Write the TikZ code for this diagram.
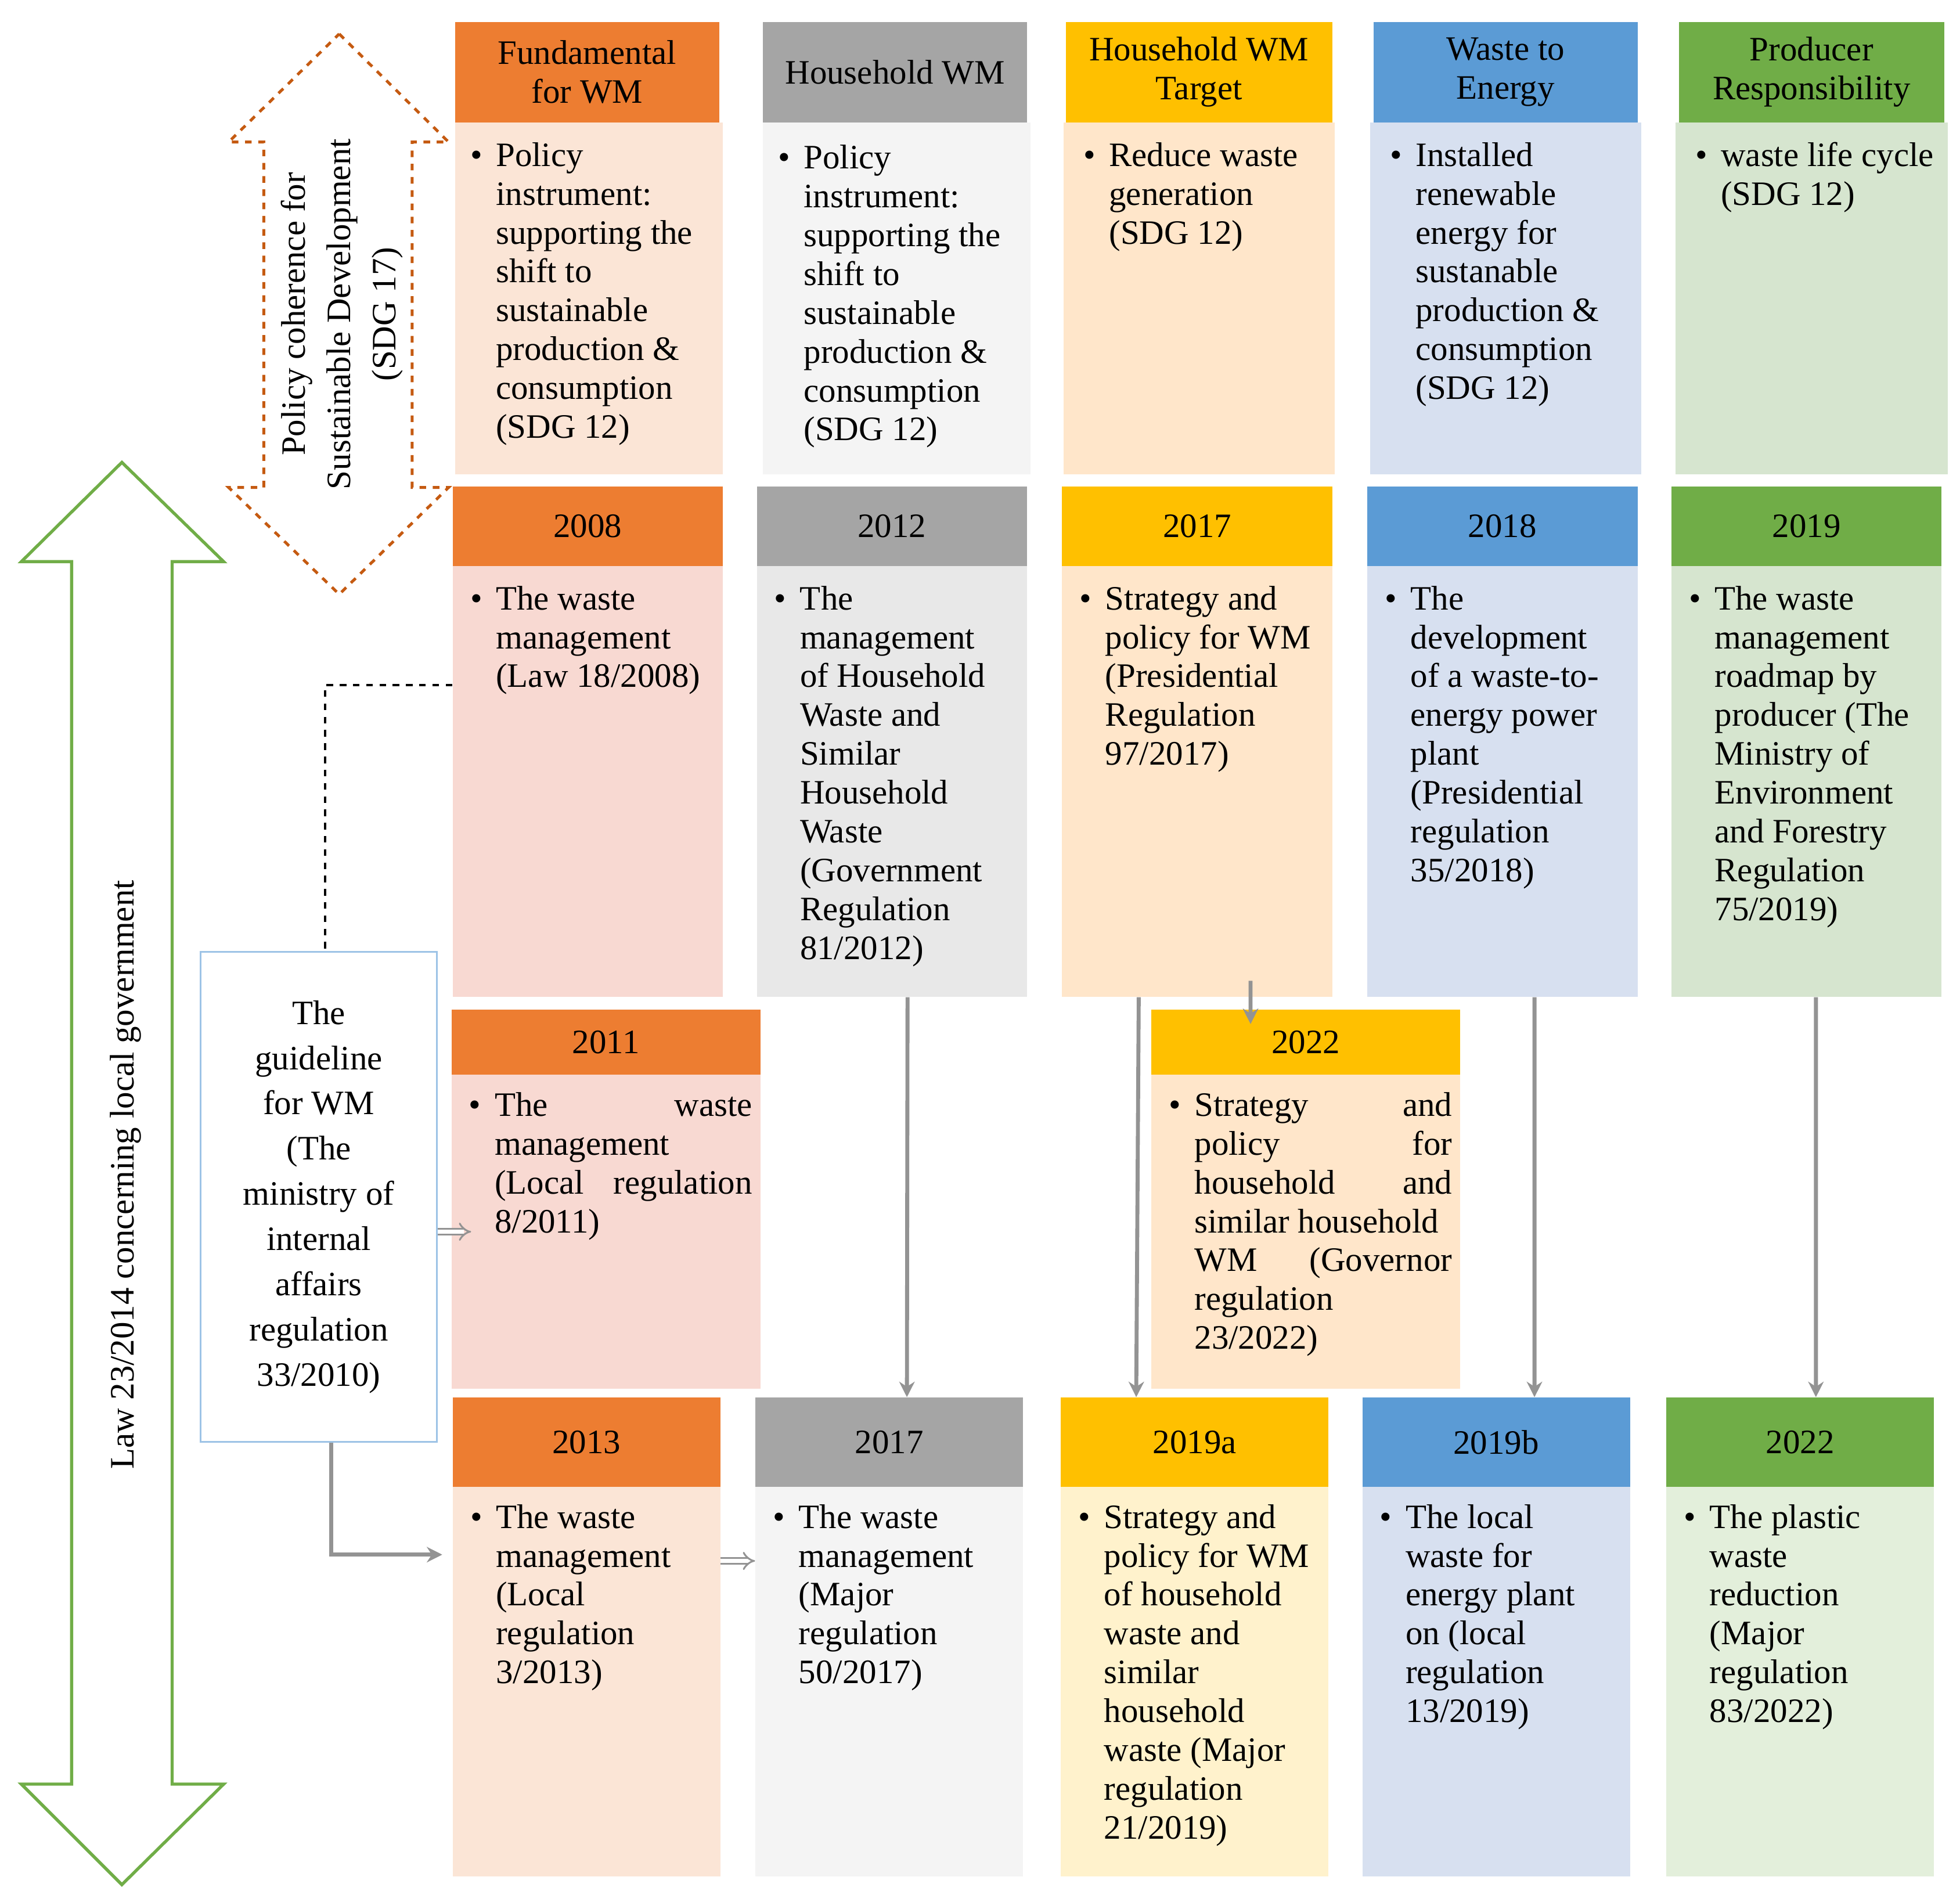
\documentclass[tikz,border=0pt]{standalone}
\usepackage{fontspec}
\setmainfont{Liberation Serif}
\usetikzlibrary{arrows.meta}
\definecolor{cOr}{HTML}{ED7D31}
\definecolor{cGy}{HTML}{A5A5A5}
\definecolor{cYe}{HTML}{FFC000}
\definecolor{cBl}{HTML}{5B9BD5}
\definecolor{cGr}{HTML}{70AD47}
\definecolor{bOrA}{HTML}{FBE5D6}
\definecolor{bOrB}{HTML}{F8D9D2}
\definecolor{bGyA}{HTML}{F4F4F4}
\definecolor{bGyB}{HTML}{E8E8E8}
\definecolor{bYeA}{HTML}{FFE6CA}
\definecolor{bYeB}{HTML}{FFF2CC}
\definecolor{bBl}{HTML}{D7E0F0}
\definecolor{bGrA}{HTML}{D6E5CF}
\definecolor{bGrB}{HTML}{E3EFDB}
\definecolor{dOr}{HTML}{C55A11}
\definecolor{lBl}{HTML}{9DC3E6}
\newcommand\fs{\fontsize{15.5}{17.6}\selectfont}
\newcommand\bul[2]{\makebox[0.75em][l]{\textbullet}\parbox[t]{#1}{\raggedright #2}}
\tikzset{
  hd/.style={anchor=north west, inner sep=0pt, align=center, font=\fs},
  bd/.style={anchor=north west, inner sep=0pt},
  txt/.style={anchor=north west, inner sep=0pt, font=\fs},
  gar/.style={draw=gray!85, line width=1.8pt, -{Stealth[length=7pt,width=7pt]}},
  oar/.style={draw=gray!85, double, double distance=2pt, line width=0.8pt, -{Implies}},
}
\begin{document}
\begin{tikzpicture}[x=0.02cm,y=-0.02cm]
\useasboundingbox (0,0) rectangle (1560,1508);

% policy arrows
\draw[cGr, line width=1.4pt] (97,368) -- (178,447) -- (137,447) -- (137,1420) -- (178,1420) -- (97,1500) -- (17,1420) -- (57,1420) -- (57,447) -- (17,447) -- cycle;
\node[rotate=90, font=\fs] (law) at (100,935) {Law 23/2014 concerning local government};
\draw[dOr, dashed, line width=1.3pt] (270,27) -- (357,113) -- (328,113) -- (328,388) -- (357,388) -- (270,473) -- (182,388) -- (210,388) -- (210,113) -- (182,113) -- cycle;
\node[rotate=90, align=center, font=\fontsize{15.5}{20.5}\selectfont] (pcsd) at (272,250) {Policy coherence for\\Sustainable Development\\(SDG 17)};

% row 1
\node[hd, fill=cOr, minimum width=4.2cm, minimum height=1.6cm] (h11) at (362,17) {Fundamental\\for WM};
\node[hd, fill=cGy, minimum width=4.2cm, minimum height=1.6cm] (h12) at (607,17) {Household WM};
\node[hd, fill=cYe, minimum width=4.24cm, minimum height=1.6cm] (h13) at (848,17) {Household WM\\Target};
\node[hd, fill=cBl, minimum width=4.2cm, minimum height=1.6cm] (h14) at (1093,17) {Waste to\\Energy};
\node[hd, fill=cGr, minimum width=4.22cm, minimum height=1.6cm] (h15) at (1336,17) {Producer\\Responsibility};
\node[bd, fill=bOrA, minimum width=4.26cm, minimum height=5.6cm] (b11) at (362,97) {};
\node[bd, fill=bGyA, minimum width=4.26cm, minimum height=5.6cm] (b12) at (607,97) {};
\node[bd, fill=bYeA, minimum width=4.32cm, minimum height=5.6cm] (b13) at (846,97) {};
\node[bd, fill=bBl, minimum width=4.32cm, minimum height=5.6cm] (b14) at (1090,97) {};
\node[bd, fill=bGrA, minimum width=4.34cm, minimum height=5.6cm] (b15) at (1333,97) {};
\node[txt] (t11) at (374,113) {\bul{3.5cm}{Policy\\instrument:\\supporting the\\shift to\\sustainable\\production \&\\consumption\\(SDG 12)}};
\node[txt] (t12) at (619,115) {\bul{3.5cm}{Policy\\instrument:\\supporting the\\shift to\\sustainable\\production \&\\consumption\\(SDG 12)}};
\node[txt] (t13) at (862,113) {\bul{3.5cm}{Reduce waste\\generation\\(SDG 12)}};
\node[txt] (t14) at (1106,113) {\bul{3.5cm}{Installed\\renewable\\energy for\\sustanable\\production \&\\consumption\\(SDG 12)}};
\node[txt] (t15) at (1349,113) {\bul{3.6cm}{waste life cycle\\(SDG 12)}};

% row 2
\node[hd, fill=cOr, minimum width=4.3cm, minimum height=1.26cm] (h21) at (360,387) {2008};
\node[hd, fill=cGy, minimum width=4.3cm, minimum height=1.26cm] (h22) at (602,387) {2012};
\node[hd, fill=cYe, minimum width=4.3cm, minimum height=1.26cm] (h23) at (845,387) {2017};
\node[hd, fill=cBl, minimum width=4.3cm, minimum height=1.26cm] (h24) at (1088,387) {2018};
\node[hd, fill=cGr, minimum width=4.3cm, minimum height=1.26cm] (h25) at (1330,387) {2019};
\node[bd, fill=bOrB, minimum width=4.3cm, minimum height=6.86cm] (b21) at (360,450) {};
\node[bd, fill=bGyB, minimum width=4.3cm, minimum height=6.86cm] (b22) at (602,450) {};
\node[bd, fill=bYeA, minimum width=4.3cm, minimum height=6.86cm] (b23) at (845,450) {};
\node[bd, fill=bBl, minimum width=4.3cm, minimum height=6.86cm] (b24) at (1088,450) {};
\node[bd, fill=bGrA, minimum width=4.3cm, minimum height=6.86cm] (b25) at (1330,450) {};
\node[txt] (t21) at (374,466) {\bul{3.5cm}{The waste\\management\\(Law 18/2008)}};
\node[txt] (t22) at (616,466) {\bul{3.5cm}{The\\management\\of Household\\Waste and\\Similar\\Household\\Waste\\(Government\\Regulation\\81/2012)}};
\node[txt] (t23) at (859,466) {\bul{3.5cm}{Strategy and\\policy for WM\\(Presidential\\Regulation\\97/2017)}};
\node[txt] (t24) at (1102,466) {\bul{3.5cm}{The\\development\\of a waste-to-\\energy power\\plant\\(Presidential\\regulation\\35/2018)}};
\node[txt] (t25) at (1344,466) {\bul{3.5cm}{The waste\\management\\roadmap by\\producer (The\\Ministry of\\Environment\\and Forestry\\Regulation\\75/2019)}};

% row 3
\node[hd, fill=cOr, minimum width=4.92cm, minimum height=1.04cm] (h31) at (359,803) {2011};
\node[hd, fill=cYe, minimum width=4.92cm, minimum height=1.04cm] (h32) at (916,803) {2022};
\node[bd, fill=bOrB, minimum width=4.92cm, minimum height=5cm] (b31) at (359,855) {};
\node[bd, fill=bYeA, minimum width=4.92cm, minimum height=5cm] (b32) at (916,855) {};
\node[txt] (t31) at (373,869) {\bul{4.1cm}{The\hfill waste\\management\\(Local\hfill regulation\\8/2011)}};
\node[txt] (t32) at (930,869) {\bul{4.1cm}{Strategy\hfill and\\policy\hfill for\\household\hfill and\\similar household\\WM\hfill (Governor\\regulation\\23/2022)}};

% row 4
\node[hd, fill=cOr, minimum width=4.26cm, minimum height=1.42cm] (h41) at (360,1112) {2013};
\node[hd, fill=cGy, minimum width=4.26cm, minimum height=1.42cm] (h42) at (601,1112) {2017};
\node[hd, fill=cYe, minimum width=4.26cm, minimum height=1.42cm] (h43) at (844,1112) {2019a};
\node[hd, fill=cBl, minimum width=4.26cm, minimum height=1.42cm] (h44) at (1084,1112) {2019b};
\node[hd, fill=cGr, minimum width=4.26cm, minimum height=1.42cm] (h45) at (1326,1112) {2022};
\node[bd, fill=bOrA, minimum width=4.26cm, minimum height=6.2cm] (b41) at (360,1183) {};
\node[bd, fill=bGyA, minimum width=4.26cm, minimum height=6.2cm] (b42) at (601,1183) {};
\node[bd, fill=bYeB, minimum width=4.26cm, minimum height=6.2cm] (b43) at (844,1183) {};
\node[bd, fill=bBl, minimum width=4.26cm, minimum height=6.2cm] (b44) at (1084,1183) {};
\node[bd, fill=bGrB, minimum width=4.26cm, minimum height=6.2cm] (b45) at (1326,1183) {};
\node[txt] (t41) at (374,1197) {\bul{3.5cm}{The waste\\management\\(Local\\regulation\\3/2013)}};
\node[txt] (t42) at (615,1197) {\bul{3.5cm}{The waste\\management\\(Major\\regulation\\50/2017)}};
\node[txt] (t43) at (858,1197) {\bul{3.5cm}{Strategy and\\policy for WM\\of household\\waste and\\similar\\household\\waste (Major\\regulation\\21/2019)}};
\node[txt] (t44) at (1098,1197) {\bul{3.5cm}{The local\\waste for\\energy plant\\on (local\\regulation\\13/2019)}};
\node[txt] (t45) at (1340,1197) {\bul{3.5cm}{The plastic\\waste\\reduction\\(Major\\regulation\\83/2022)}};

% guideline
\node[anchor=north west, draw=lBl, fill=white, line width=0.8pt, minimum width=3.76cm, minimum height=7.8cm, align=center, font=\fontsize{15.5}{20.5}\selectfont] (guide) at (159,757) {The\\guideline\\for WM\\(The\\ministry of\\internal\\affairs\\regulation\\33/2010)};

% connectors
\draw[dashed, line width=0.9pt] ([yshift=1.53cm]b21.west) -| ([xshift=0.1cm]guide.north);
\draw[gar] ([xshift=0.25cm]b22.south) -- ([xshift=0.28cm]h42.north);
\draw[gar] ([xshift=-0.93cm]b23.south) -- ([xshift=-0.93cm]h43.north);
\draw[gar, shorten <=-0.26cm, shorten >=-0.24cm] ([xshift=0.85cm]b23.south) -- ([xshift=-0.88cm]h32.north);
\draw[gar] ([xshift=0.51cm]b24.south) -- ([xshift=0.61cm]h44.north);
\draw[gar] ([xshift=0.15cm]b25.south) -- ([xshift=0.25cm]h45.north);
\draw[oar, shorten >=-0.32cm] (guide.east |- b31.west) -- (b31.west);
\draw[oar] ([yshift=1.92cm]b41.east) -- ([yshift=1.92cm]b42.west);
\draw[gar, shorten >=0.16cm] ([xshift=0.2cm]guide.south) |- ([yshift=2.02cm]b41.west);
\end{tikzpicture}
\end{document}
